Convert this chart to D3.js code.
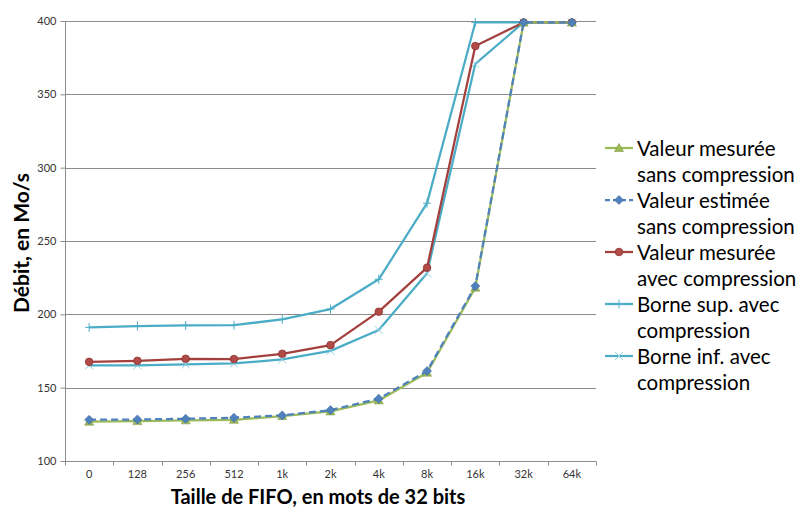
<!DOCTYPE html>
<html>
<head>
<meta charset="utf-8">
<script src="https://cdn.jsdelivr.net/npm/d3@7"></script>
<style>
  html, body { margin: 0; padding: 0; background: #fff; }
  svg { display: block; font-family: Lato, "Open Sans", sans-serif; }
</style>
</head>
<body>
<svg id="chart" width="798" height="508"></svg>
<script>
// FIFO sizes (x categories)
const fifoSizes = ["0", "128", "256", "512", "1k", "2k", "4k", "8k", "16k", "32k", "64k"];
const yTicks = [100, 150, 200, 250, 300, 350, 400];

// Throughput in Mo/s for each series
const mesureSans = [126.8, 127.2, 127.7, 128.1, 130.6, 133.8, 141.3, 160.2, 218.2, 399, 399];
const estimeSans = [128.1, 128.3, 128.8, 129.5, 131.1, 134.7, 142.5, 161.3, 219.3, 399, 399];
const mesureAvec = [167.6, 168.3, 169.7, 169.5, 173.1, 179.0, 201.8, 231.8, 382.9, 399, 399];
const borneSup   = [191.1, 192.0, 192.5, 192.6, 196.6, 203.6, 223.9, 275.8, 399, 399, 399];
const borneInf   = [165.2, 165.2, 165.8, 166.5, 169.3, 175.1, 189.3, 228.0, 370.8, 399, 399];

const seriesNames = [
  ["Valeur mesurée", "sans compression"],
  ["Valeur estimée", "sans compression"],
  ["Valeur mesurée", "avec compression"],
  ["Borne sup. avec", "compression"],
  ["Borne inf. avec", "compression"]
];

const series = [
  { values: mesureSans, color: "#9BBB59", marker: "triangle", dash: null },
  { values: estimeSans, color: "#4F81BD", marker: "diamond", dash: "7,4" },
  { values: mesureAvec, color: "#A3403D", marker: "circle", dash: null },
  { values: borneSup,   color: "#4BACC6", marker: "plus", dash: null },
  { values: borneInf,   color: "#4BACC6", marker: "cross", dash: null }
];

const svg = d3.select("#chart");
const plot = { left: 65, right: 596, top: 21, bottom: 461 };

const x = d3.scaleBand().domain(fifoSizes).range([plot.left, plot.right]).padding(0);
const y = d3.scaleLinear().domain([100, 400]).range([plot.bottom, plot.top]);
const cx = d => x(d) + x.bandwidth() / 2;

// Horizontal gridlines
svg.append("g")
  .selectAll("line")
  .data(yTicks.filter(t => t > 100))
  .join("line")
  .attr("x1", plot.left).attr("x2", plot.right)
  .attr("y1", d => Math.round(y(d)) + 0.5).attr("y2", d => Math.round(y(d)) + 0.5)
  .attr("stroke", "#8c8c8c").attr("stroke-width", 1);

// Y axis
const yAxis = svg.append("g")
  .attr("transform", `translate(${plot.left + 0.5},0)`)
  .call(d3.axisLeft(y).tickValues(yTicks).tickSize(5).tickPadding(4).tickFormat(d3.format("d")));
yAxis.select(".domain").attr("stroke", "#8c8c8c").attr("d", `M0,${plot.top}V${plot.bottom}`);
yAxis.selectAll(".tick line").attr("stroke", "#8c8c8c");
yAxis.selectAll(".tick text").attr("font-size", 11).attr("fill", "#333").attr("font-family", "Lato, sans-serif");

// X axis with tick marks on band boundaries
const xAxis = svg.append("g")
  .attr("transform", `translate(0,${Math.round(plot.bottom) + 0.5})`)
  .call(d3.axisBottom(x).tickSize(0).tickPadding(9));
xAxis.select(".domain").attr("stroke", "#8c8c8c").attr("d", `M${plot.left},0H${plot.right}`);
xAxis.selectAll(".tick text").attr("font-size", 11).attr("fill", "#333").attr("font-family", "Lato, sans-serif");
xAxis.selectAll(".bound")
  .data(fifoSizes.concat(["end"]))
  .join("line")
  .attr("class", "bound")
  .attr("x1", (d, i) => Math.round(plot.left + i * x.bandwidth()) + 0.5)
  .attr("x2", (d, i) => Math.round(plot.left + i * x.bandwidth()) + 0.5)
  .attr("y1", 0).attr("y2", 4)
  .attr("stroke", "#8c8c8c");

// Axis titles
svg.append("text")
  .attr("transform", `translate(29,243) rotate(-90)`)
  .attr("text-anchor", "middle")
  .attr("font-size", 21).attr("font-weight", "bold").attr("fill", "#000")
  .text("Débit, en Mo/s");
svg.append("text")
  .attr("x", 318).attr("y", 504)
  .attr("text-anchor", "middle")
  .attr("font-size", 20).attr("font-weight", "bold").attr("fill", "#000")
  .text("Taille de FIFO, en mots de 32 bits");

// Marker drawing
function drawMarker(g, type, color) {
  if (type === "triangle") {
    g.append("path").attr("d", "M0,-4.5L4.5,3.5H-4.5Z")
      .attr("fill", color).attr("stroke", "#7f9a45").attr("stroke-width", 0.6);
  } else if (type === "diamond") {
    g.append("path").attr("d", "M0,-4.5L4.5,0L0,4.5L-4.5,0Z")
      .attr("fill", color).attr("stroke", "#3f6a9e").attr("stroke-width", 0.6);
  } else if (type === "circle") {
    g.append("circle").attr("r", 3.8)
      .attr("fill", "#b24a47").attr("stroke", "#8a3330").attr("stroke-width", 0.8);
  } else if (type === "plus") {
    g.append("path").attr("d", "M-4,0H4M0,-4.5V4.5")
      .attr("stroke", color).attr("stroke-width", 1).attr("fill", "none");
  } else if (type === "cross") {
    g.append("path").attr("d", "M-4,-4L4,4M-4,4L4,-4")
      .attr("stroke", "#8fd0e0").attr("stroke-width", 1).attr("fill", "none");
  }
}

const line = d3.line().x((d, i) => cx(fifoSizes[i])).y(d => y(d));

// Draw series (cyan bounds first, then measured with compression, then without)
const order = [3, 4, 2, 0, 1];
order.forEach(k => {
  const s = series[k];
  const g = svg.append("g");
  g.append("path")
    .datum(s.values)
    .attr("d", line)
    .attr("fill", "none")
    .attr("stroke", s.color)
    .attr("stroke-width", 2.25)
    .attr("stroke-dasharray", s.dash)
    .attr("stroke-linejoin", "round");
  s.values.forEach((v, i) => {
    const mg = g.append("g").attr("transform", `translate(${cx(fifoSizes[i])},${y(v)})`);
    drawMarker(mg, s.marker, s.color);
  });
});

// Legend
const legend = svg.append("g").attr("transform", "translate(605,148)");
series.forEach((s, i) => {
  const g = legend.append("g").attr("transform", `translate(0,${i * 52})`);
  g.append("line").attr("x1", 0).attr("x2", 28).attr("y1", 0).attr("y2", 0)
    .attr("stroke", s.color).attr("stroke-width", 2.25).attr("stroke-dasharray", s.dash ? "5,3" : null);
  const mg = g.append("g").attr("transform", "translate(14,0)");
  drawMarker(mg, s.marker, s.color);
  g.append("text").attr("x", 32).attr("y", 7.5).attr("font-size", 20.5).attr("fill", "#000")
    .text(seriesNames[i][0]);
  g.append("text").attr("x", 32).attr("y", 33.5).attr("font-size", 20.5).attr("fill", "#000")
    .text(seriesNames[i][1]);
});
</script>
</body>
</html>
